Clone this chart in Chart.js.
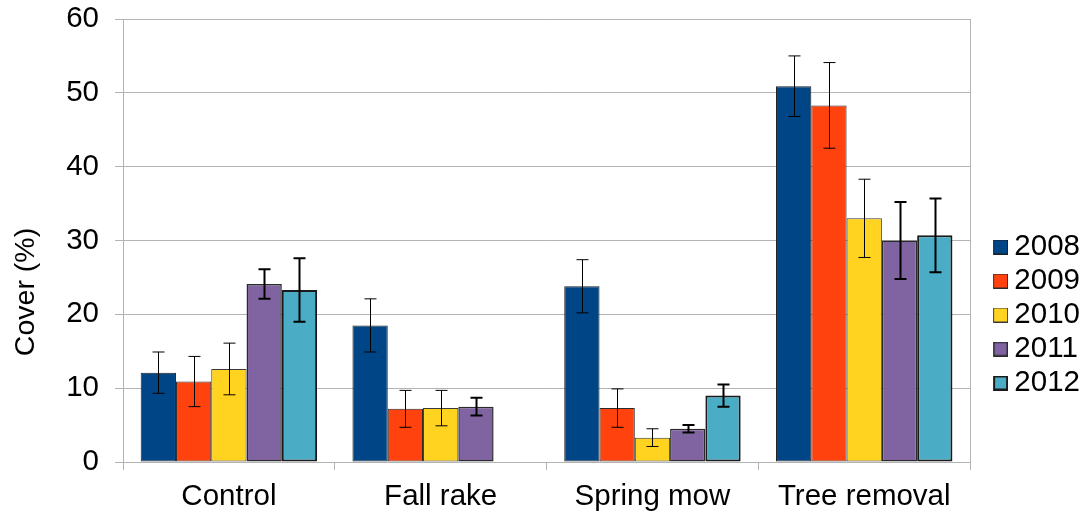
<!DOCTYPE html>
<html>
<head>
<meta charset="utf-8">
<script src="https://cdn.jsdelivr.net/npm/chart.js@4.4.1/dist/chart.umd.min.js"></script>
<style>
html,body{margin:0;padding:0;background:#fff}
#wrap{width:1090px;height:519px}
</style>
</head>
<body>
<div id="wrap"><canvas id="chart" width="1090" height="519"></canvas></div>
<script>
// data
const treatments=['Control','Fall rake','Spring mow','Tree removal'];
const years=['2008','2009','2010','2011','2012'];

const cover2008=[12.1,18.5,23.8,50.9];
const cover2009=[10.9,7.2,7.3,48.3];
const cover2010=[12.6,7.3,3.3,33.0];
const cover2011=[24.1,7.5,4.5,30.0];
const cover2012=[23.3,0,9.0,30.7];

const err2008=[2.8,3.6,3.6,4.1];
const err2009=[3.4,2.5,2.6,5.8];
const err2010=[3.5,2.4,1.2,5.3];
const err2011=[2.0,1.2,0.5,5.2];
const err2012=[4.3,null,1.5,5.0];

const yTicks=[0,10,20,30,40,50,60];
const yTitle='Cover (%)';

const colors=['#004586','#ff420e','#ffd320','#8064a2','#4bacc6'];
const borders=['#1e1e1e','#2a2a2a','#3a3a3a','#2a2a2a','#1a1a1a'];
const borderW=[1,1,1,1.5,2];
const errW=[1,1,1,2,2];

const allCover=[cover2008,cover2009,cover2010,cover2011,cover2012];
const allErr=[err2008,err2009,err2010,err2011,err2012];

const FS=29.5;
const FONT='"Liberation Sans", Arial, sans-serif';

// legend swatch: square sits right of the image centre so the text gap is tight
function swatch(i){
 const c=document.createElement('canvas');
 c.width=42;c.height=15;
 const g=c.getContext('2d');
 g.fillStyle=colors[i];
 g.fillRect(27,0,15,15);
 g.strokeStyle=borders[i];
 g.lineWidth=borderW[i];
 g.strokeRect(27+borderW[i]/2,borderW[i]/2,15-borderW[i],15-borderW[i]);
 return c;
}
const swatches=years.map((_,i)=>swatch(i));

const errorBars={
 id:'errorBars',
 afterDatasetsDraw(chart){
  const ctx=chart.ctx,y=chart.scales.y;
  chart.data.datasets.forEach((ds,i)=>{
   const meta=chart.getDatasetMeta(i);
   meta.data.forEach((bar,j)=>{
    const e=ds.errors[j];
    if(!e) return;
    const v=ds.data[j];
    const top=y.getPixelForValue(v+e),bot=y.getPixelForValue(v-e);
    const x=Math.round(bar.x)+0.5;
    ctx.save();
    ctx.strokeStyle='#000';
    ctx.lineWidth=ds.errWidth;
    ctx.beginPath();
    ctx.moveTo(x,top);ctx.lineTo(x,bot);
    ctx.moveTo(x-6,top);ctx.lineTo(x+6,top);
    ctx.moveTo(x-6,bot);ctx.lineTo(x+6,bot);
    ctx.stroke();
    ctx.restore();
   });
  });
 }
};

// axis title sits lower than the plot centre in the original
const axisTitle={
 id:'axisTitle',
 afterDraw(chart){
  const ctx=chart.ctx,a=chart.chartArea;
  ctx.save();
  ctx.translate(26,a.bottom-170);
  ctx.rotate(-Math.PI/2);
  ctx.font='28.5px '+FONT;
  ctx.fillStyle='#000';
  ctx.textAlign='center';
  ctx.textBaseline='middle';
  ctx.fillText(yTitle,0,0);
  ctx.restore();
 }
};

const datasets=years.map((yr,i)=>({
 label:yr,
 data:allCover[i],
 errors:allErr[i],
 errWidth:errW[i],
 backgroundColor:colors[i],
 borderColor:borders[i],
 borderWidth:borderW[i],
 borderSkipped:false
}));

Chart.defaults.font.family=FONT;
Chart.defaults.color='#000';

new Chart(document.getElementById('chart'),{
 type:'bar',
 data:{labels:treatments,datasets:datasets},
 options:{
  responsive:false,
  animation:false,
  layout:{padding:{top:19,left:0,right:0,bottom:0}},
  datasets:{bar:{categoryPercentage:0.833,barPercentage:1}},
  plugins:{
   tooltip:{enabled:false},
   legend:{
    position:'right',
    title:{display:true,text:'',font:{size:10},padding:{top:0,bottom:80}},
    labels:{
     usePointStyle:true,
     pointStyleWidth:25,
     padding:4.5,
     font:{size:FS},
     color:'#000',
     generateLabels(chart){
      const items=Chart.defaults.plugins.legend.labels.generateLabels(chart);
      items.forEach((it,i)=>{it.pointStyle=swatches[i];});
      return items;
     }
    }
   }
  },
  scales:{
   x:{
    afterFit(s){s.height=57;s.paddingLeft=0;s.paddingRight=0;},
    grid:{
     offset:true,
     color:c=>(c.index===0||c.index===undefined)?'#b3b3b3':'rgba(0,0,0,0)',
     tickColor:'#b3b3b3',
     tickLength:8,
     lineWidth:1
    },
    border:{color:'#b3b3b3'},
    ticks:{font:{size:FS},color:'#000',padding:9}
   },
   y:{
    min:0,max:60,
    afterFit(s){s.width=123;s.paddingTop=0;s.paddingBottom=0;},
    afterBuildTicks(s){s.ticks=yTicks.map(v=>({value:v}));},
    grid:{color:'#b3b3b3',tickColor:'#b3b3b3',tickLength:8,lineWidth:1},
    border:{color:'#b3b3b3'},
    ticks:{font:{size:FS},color:'#000',padding:16},
    title:{display:false}
   }
  }
 },
 plugins:[errorBars,axisTitle]
});
</script>
</body>
</html>
